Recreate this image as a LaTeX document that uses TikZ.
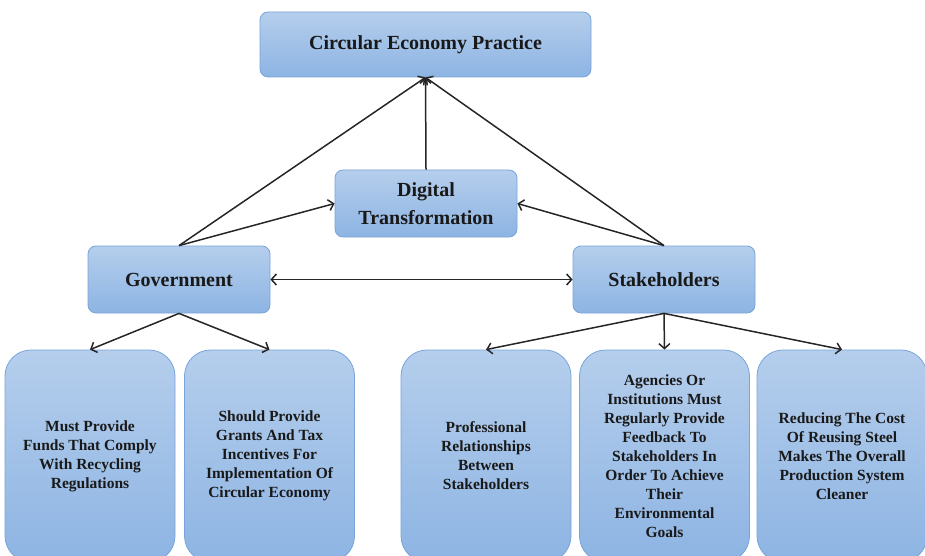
\documentclass[tikz,border=0pt]{standalone}
\usepackage{fontspec}
\setmainfont{Liberation Serif}
\usetikzlibrary{arrows.meta}

\begin{document}
\begin{tikzpicture}[x=1pt,y=-1pt,>={Straight Barb[length=5pt,width=11pt]}]
% Colors
\definecolor{boxtop}{RGB}{181,206,236}
\definecolor{boxbottom}{RGB}{141,180,227}
\definecolor{boxline}{RGB}{120,164,218}
% Styles
\tikzstyle{main box}=[draw=boxline,line width=0.8pt,rounded corners=8pt,
  top color=boxtop,bottom color=boxbottom,inner sep=0pt,align=center,
  font=\fontsize{20}{28}\selectfont\bfseries,text=black!90]
\tikzstyle{leaf box}=[draw=boxline,line width=0.8pt,rounded corners=26pt,
  top color=boxtop,bottom color=boxbottom,inner sep=0pt,align=center,
  minimum width=170pt,minimum height=212pt,
  font=\fontsize{15.5}{19}\selectfont\bfseries,text=black!90]
\tikzstyle{link}=[line width=1.5pt,black!85]
% The graphic
\useasboundingbox (0,0) rectangle (925,556);
\clip (0,0) rectangle (925,556);
\node[main box,minimum width=331pt,minimum height=65pt] (cep) at (425.5,44.5) {Circular Economy Practice};
\node[main box,minimum width=182pt,minimum height=67pt] (digital) at (426,203.5) {Digital\\Transformation};
\node[main box,minimum width=182pt,minimum height=67pt] (gov) at (179,279.5) {Government};
\node[main box,minimum width=182pt,minimum height=67pt] (stake) at (664,279.5) {Stakeholders};
% Government branch
\node[leaf box] (funds) at (90,456) {\fontsize{15.5}{22}\selectfont Must Provide\\Funds That Comply\\With Recycling\\Regulations};
\node[leaf box] (grants) at (269.5,456) {Should Provide\\Grants And Tax\\Incentives For\\Implementation Of\\Circular Economy};
% Stakeholders branch
\node[leaf box] (relations) at (486,456) {Professional\\Relationships\\Between\\Stakeholders};
\node[leaf box] (agencies) at (664.5,456) {Agencies Or\\Institutions Must\\Regularly Provide\\Feedback To\\Stakeholders In\\Order To Achieve\\Their\\Environmental\\Goals};
\node[leaf box] (steel) at (842,456) {Reducing The Cost\\Of Reusing Steel\\Makes The Overall\\Production System\\Cleaner};
% Connectors
\draw[link,->] (gov.north) -- (cep.south);
\draw[link,->] (digital.north) -- (cep.south);
\draw[link,->] (stake.north) -- (cep.south);
\draw[link,->] (gov.north) -- (digital.west);
\draw[link,->] (stake.north) -- (digital.east);
\draw[link,<->] (gov.east) -- (stake.west);
\draw[link,->] (gov.south) -- (funds.north);
\draw[link,->] (gov.south) -- (grants.north);
\draw[link,->] (stake.south) -- (relations.north);
\draw[link,->] (stake.south) -- (agencies.north);
\draw[link,->] (stake.south) -- (steel.north);
\end{tikzpicture}
\end{document}
